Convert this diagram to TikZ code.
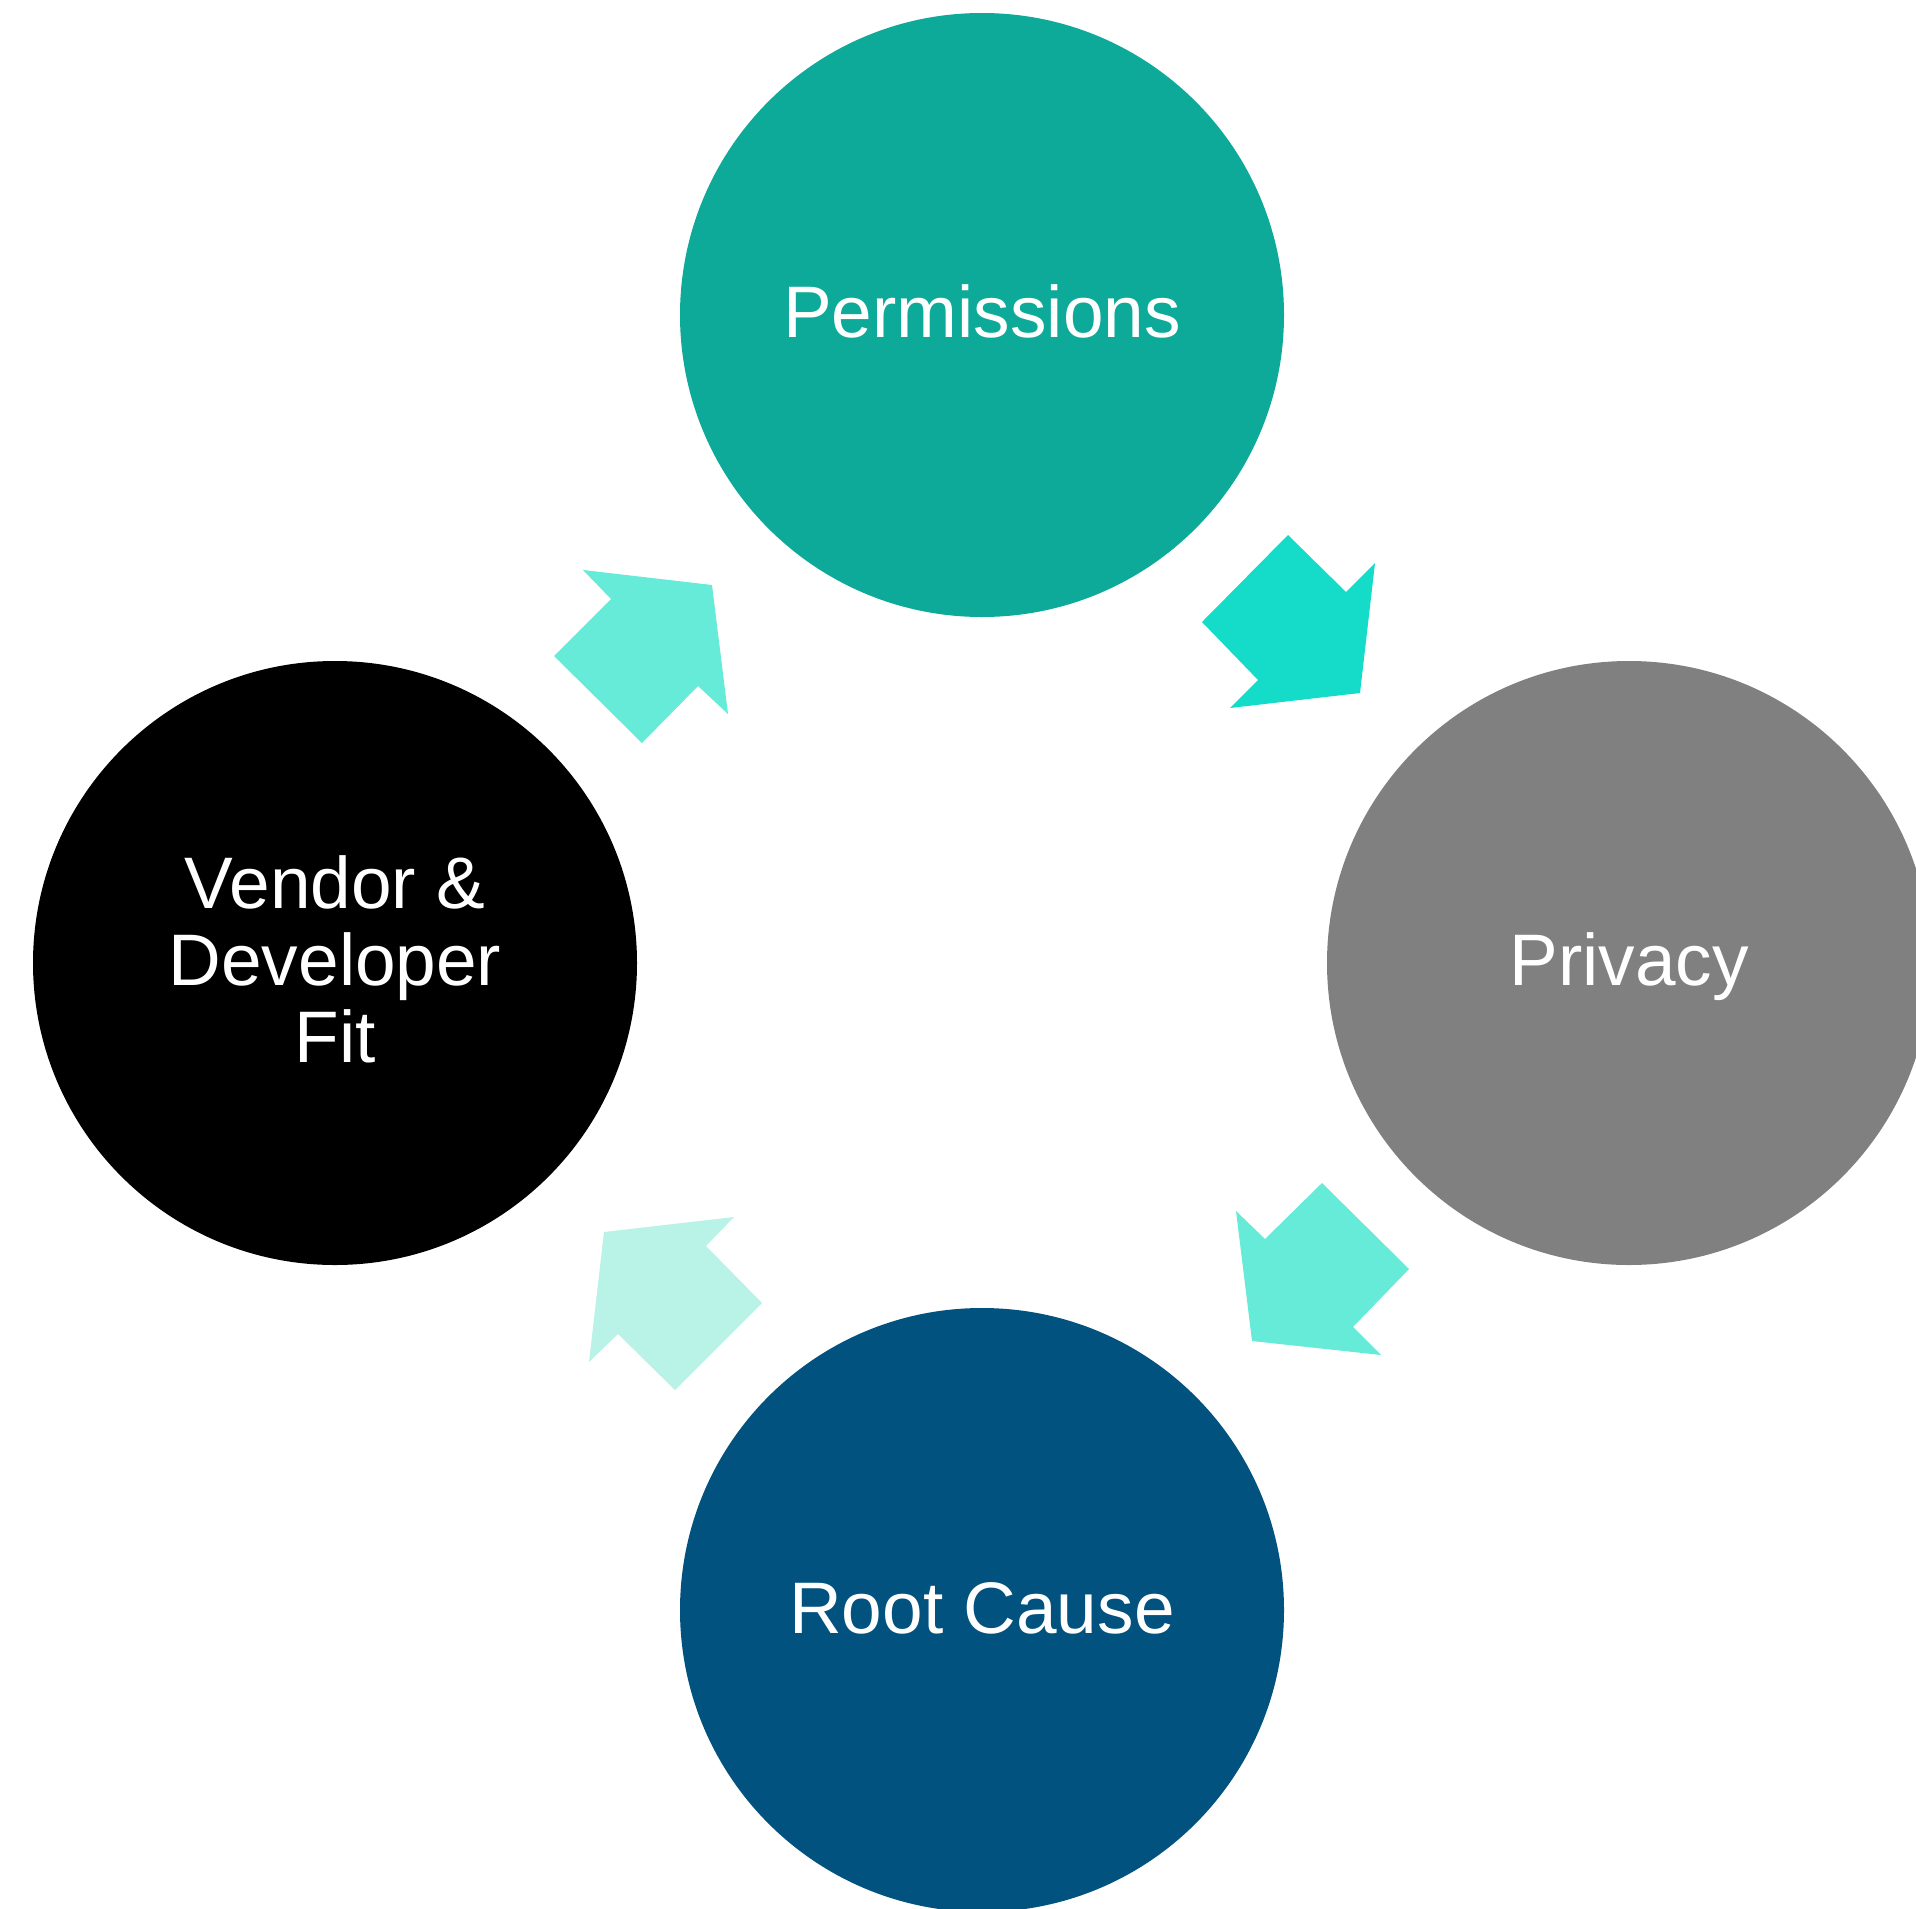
\documentclass[tikz,border=0pt]{standalone}
\usepackage{fontspec}
\setmainfont{Liberation Sans}
\definecolor{permc}{HTML}{0DAA9A}
\definecolor{privc}{HTML}{808080}
\definecolor{rootc}{HTML}{02527F}
\definecolor{vendc}{HTML}{000000}
\definecolor{arrA}{HTML}{14DCC8}
\definecolor{arrB}{HTML}{66EBD8}
\definecolor{arrC}{HTML}{B9F2E6}
\begin{document}
\begin{tikzpicture}[x=1pt,y=-1pt,
  bubble/.style={circle, draw=none, inner sep=0pt, minimum size=604pt},
  lbl/.style={text=white, font=\fontsize{73}{77}\selectfont, align=center, inner sep=0pt, anchor=base}]
\useasboundingbox (0,0) rectangle (1916,1908);
\clip (0,0) rectangle (1916,1908);
\fill[white] (0,0) rectangle (1916,1908);
% circles
\node[bubble, fill=permc] (perm) at (982,315) {};
\node[bubble, fill=privc] (priv) at (1629,963) {};
\node[bubble, fill=rootc] (root) at (982,1610) {};
\node[bubble, fill=vendc] (vend) at (335,963) {};
% labels
\node[lbl] (permt) at (982,337) {Permissions};
\node[lbl] (privt) at (1629,985) {Privacy};
\node[lbl] (roott) at (982,1633) {Root Cause};
\node[lbl] (vendt) at (335,1062) {Vendor \&\\Developer\\Fit};
% arrows
\fill[arrA] (1202,622) -- (1288,535) -- (1346,592) -- (1375,563) -- (1360,693) -- (1230,708) -- (1258,680) -- cycle;
\fill[arrB] (1322,1183) -- (1409,1269) -- (1353,1327) -- (1381,1355) -- (1252,1341) -- (1236,1211) -- (1265,1239) -- cycle;
\fill[arrC] (762,1303) -- (675,1390) -- (618,1334) -- (589,1362) -- (604,1232) -- (734,1217) -- (706,1246) -- cycle;
\fill[arrB] (642,743) -- (554,656) -- (611,599) -- (583,570) -- (712,585) -- (728,714) -- (698,686) -- cycle;
\end{tikzpicture}
\end{document}
